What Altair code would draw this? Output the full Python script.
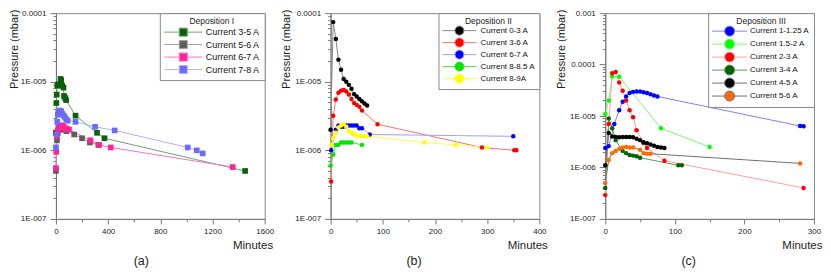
import math
import altair as alt
import pandas as pd

FONT = "Liberation Sans"

# ---------------- Panel (a): Deposition I ----------------
a_names = ["Current 3-5 A", "Current 5-6 A", "Current 6-7 A", "Current 7-8 A"]
a_t = [
    [0, 3, 6, 10, 20, 30, 35, 40, 48, 58, 62, 70, 78, 150, 315, 372, 1450],
    [0, 8, 15, 25, 40, 60, 80, 140, 200, 260, 325],
    [0, 3, 8, 12, 20, 30, 40, 50, 60, 70, 85, 100, 265, 330, 420, 1355],
    [0, 5, 10, 15, 20, 30, 40, 50, 60, 70, 80, 90, 150, 300, 450, 1010, 1080, 1125],
]
a_p = [
    [1.8e-6, 4.9e-6, 6.5e-6, 8.8e-6, 9.2e-6, 8.8e-6, 1.1e-5, 1.05e-5, 8.8e-6, 8.2e-6, 6.2e-6, 5.8e-6, 5.4e-6, 3.2e-6, 1.8e-6, 1.5e-6, 5.0e-7],
    [5.0e-7, 1.4e-6, 1.8e-6, 2.0e-6, 2.1e-6, 2.0e-6, 1.9e-6, 1.7e-6, 1.5e-6, 1.3e-6, 1.2e-6],
    [5.5e-7, 9.5e-7, 1.6e-6, 1.9e-6, 2.1e-6, 2.2e-6, 2.3e-6, 2.3e-6, 2.2e-6, 2.1e-6, 2.05e-6, 2.0e-6, 1.4e-6, 1.2e-6, 1.1e-6, 5.7e-7],
    [1.1e-6, 1.7e-6, 2.6e-6, 3.3e-6, 3.6e-6, 3.8e-6, 3.7e-6, 3.4e-6, 3.2e-6, 3.0e-6, 2.8e-6, 2.7e-6, 2.6e-6, 2.2e-6, 1.95e-6, 1.1e-6, 1.0e-6, 9.0e-7],
]
a_marker_colors = ["#0d5e0d", "#5f5f55", "#ff2299", "#6a6aff"]
a_line_colors = ["#6aa86a", "#a0a0a0", "#ff6ec7", "#b0b0ff"]

# ---------------- Panel (b): Deposition II ----------------
b_names = ["Current 0-3 A", "Current 3-6 A", "Current 6-7 A", "Current 8-8.5 A", "Current 8-9A"]
b_t = [
    [0, 5, 10, 15, 20, 25, 30, 35, 40, 45, 50, 55, 60, 65, 70],
    [1, 5, 10, 15, 20, 25, 30, 35, 40, 45, 50, 55, 60, 90, 290, 352, 356],
    [1, 10, 15, 20, 25, 30, 35, 40, 45, 50, 55, 60, 75, 350],
    [0, 5, 10, 15, 20, 25, 30, 35, 40, 60],
    [1, 5, 10, 15, 20, 25, 30, 35, 40, 45, 50, 57, 64, 70, 180, 240, 300],
]
b_p = [
    [2.0e-6, 7.4e-5, 4.2e-5, 2.1e-5, 1.5e-5, 1.1e-5, 1.0e-5, 9.0e-6, 7.9e-6, 6.6e-6, 6.1e-6, 5.6e-6, 5.2e-6, 4.8e-6, 4.5e-6],
    [3.5e-7, 3.2e-6, 5.5e-6, 6.9e-6, 7.4e-6, 7.6e-6, 7.2e-6, 6.5e-6, 5.6e-6, 4.9e-6, 4.6e-6, 4.3e-6, 3.8e-6, 2.4e-6, 1.1e-6, 1.0e-6, 1.0e-6],
    [1.0e-6, 2.0e-6, 2.3e-6, 2.2e-6, 2.2e-6, 2.3e-6, 2.3e-6, 2.3e-6, 2.3e-6, 2.3e-6, 2.1e-6, 2.1e-6, 1.7e-6, 1.6e-6],
    [6.0e-7, 8.7e-7, 1.2e-6, 1.2e-6, 1.3e-6, 1.3e-6, 1.3e-6, 1.3e-6, 1.3e-6, 1.2e-6],
    [1.2e-6, 1.5e-6, 1.8e-6, 2.15e-6, 2.3e-6, 2.4e-6, 2.2e-6, 1.9e-6, 1.8e-6, 1.7e-6, 1.65e-6, 1.6e-6, 1.6e-6, 1.6e-6, 1.3e-6, 1.2e-6, 1.1e-6],
]
b_marker_colors = ["#000000", "#ff0000", "#0000ff", "#00e600", "#ffff00"]
b_line_colors = ["#888888", "#ff7070", "#a0a0ff", "#40e040", "#ffff40"]

# ---------------- Panel (c): Deposition III ----------------
c_names = ["Current 1-1.25 A", "Current 1.5-2 A", "Current 2-3 A", "Current 3-4 A", "Current 4-5 A", "Current 5-6 A"]
c_t = [
    [0, 5, 13, 20, 25, 30, 35, 40, 45, 50, 55, 60, 65, 70, 75, 280, 285],
    [0, 5, 10, 20, 80, 150],
    [0, 5, 10, 15, 20, 25, 30, 35, 40, 45, 55, 60, 85, 285],
    [0, 5, 10, 15, 25, 30, 35, 40, 45, 50, 105, 110],
    [0, 5, 10, 15, 20, 25, 30, 35, 40, 45, 50, 55, 60, 65, 70, 75, 80, 85],
    [0, 5, 10, 15, 20, 25, 30, 35, 40, 50, 55, 60, 65, 280],
]
c_p = [
    [2.4e-6, 2.6e-6, 7.0e-6, 1.3e-5, 1.9e-5, 2.4e-5, 2.8e-5, 2.95e-5, 3.0e-5, 3.0e-5, 2.9e-5, 2.8e-5, 2.65e-5, 2.5e-5, 2.4e-5, 6.4e-6, 6.3e-6],
    [1.1e-5, 2.0e-5, 5.9e-5, 5.8e-5, 5.8e-6, 2.5e-6],
    [2.9e-7, 7.0e-6, 6.8e-5, 7.2e-5, 4.5e-5, 3.1e-5, 2.0e-5, 1.3e-5, 9.5e-6, 5.3e-6, 3.0e-6, 2.4e-6, 1.35e-6, 4.0e-7],
    [4.0e-7, 9.0e-6, 5.8e-6, 3.4e-6, 2.1e-6, 1.9e-6, 1.75e-6, 1.7e-6, 1.65e-6, 1.55e-6, 1.1e-6, 1.1e-6],
    [1.1e-6, 4.7e-6, 4.0e-6, 3.9e-6, 3.85e-6, 3.9e-6, 3.9e-6, 3.9e-6, 3.85e-6, 3.6e-6, 3.4e-6, 3.1e-6, 2.95e-6, 2.8e-6, 2.65e-6, 2.5e-6, 2.45e-6, 2.4e-6],
    [5.0e-7, 1.4e-6, 1.9e-6, 2.1e-6, 2.3e-6, 2.45e-6, 2.5e-6, 2.45e-6, 2.45e-6, 2.2e-6, 1.9e-6, 1.85e-6, 1.85e-6, 1.2e-6],
]
c_marker_colors = ["#0000ff", "#00ff00", "#ff0000", "#006400", "#000000", "#ff6a00"]
c_line_colors = ["#8080ff", "#70ff70", "#ffa0a0", "#5a9a5a", "#707070", "#707070"]

# axis tick values
a_x_major = [0, 400, 800, 1200, 1600]
a_x_minor = [200, 600, 1000, 1400]
b_x_major = [0, 100, 200, 300, 400]
b_x_minor = [50, 150, 250, 350]
c_x_major = [0, 100, 200, 300]
c_x_minor = [50, 150, 250]
y_major_ab = [1e-7, 1e-6, 1e-5, 1e-4]
y_major_c = [1e-7, 1e-6, 1e-5, 1e-4, 1e-3]
y_minor_ab = [m * 10.0 ** e for e in (-7, -6, -5) for m in range(2, 10)]
y_minor_c = [m * 10.0 ** e for e in (-7, -6, -5, -4) for m in range(2, 10)]

Y_LABELS = ("datum.value > 0.00099 ? '0.001' : datum.value > 0.000099 ? '0.0001' : "
            "'1E-00' + round(-log(datum.value) / LN10)")

W = 209
H = 206

# legend symbols: marker with a line through it (units = sqrt(symbolSize)/2 px)
SQ_PATH = "M-4.75,0H-1M1,0H4.75M-1,-1H1V1H-1Z"


def circ_path(half_len, n=20):
    pts = [(math.cos(2 * math.pi * k / n), math.sin(2 * math.pi * k / n)) for k in range(n)]
    poly = "M" + "L".join(f"{x:.3f},{y:.3f}" for x, y in pts) + "Z"
    return f"M-{half_len},0H-1M1,0H{half_len}" + poly


def panel(names, ts, ps, mcols, lcols, shape, pt_size, leg_title, sym_path, sym_size,
          sym_off, lab_off, lab_size, row_pad, title_pad, xmax, xmajor, xminor, ymin,
          ymajor, yminor, caption, ytx):
    rows = []
    for n, tt, pp in zip(names, ts, ps):
        for a, b in zip(tt, pp):
            rows.append({"series": n, "t": a, "p": b})
    df = pd.DataFrame(rows)

    xscale = alt.Scale(domain=[0, xmax], nice=False, zero=False)
    yscale = alt.Scale(type="log", domain=[ymin, ymajor[-1]], nice=False)

    leg = alt.Legend(
        orient="top-right", offset=0, title=leg_title,
        titleFontSize=8.5, titleFontWeight="normal", titleAnchor="middle",
        titlePadding=title_pad, titleColor="#222", titleFont=FONT,
        labelFontSize=lab_size, labelFont=FONT, labelColor="#111", labelOffset=lab_off,
        symbolType=sym_path, symbolSize=sym_size, symbolOffset=sym_off,
        symbolStrokeWidth=1, symbolOpacity=1,
        rowPadding=row_pad, padding=4, strokeColor="#8a8a8a", fillColor="#ffffff",
    )

    lines = alt.Chart(df).mark_line(strokeWidth=1).encode(
        x=alt.X("t:Q", scale=xscale, axis=alt.Axis(
            orient="bottom", values=xmajor, tickSize=5, labelPadding=4, labelFlush=False,
            format="d",
            title="Minutes", titleX=W + 8, titleY=21, titleAlign="right",
            titleBaseline="top", titleFontSize=11.5)),
        y=alt.Y("p:Q", scale=yscale, axis=alt.Axis(
            orient="left", values=ymajor, tickSize=6, labelPadding=4, labelExpr=Y_LABELS,
            title="Pressure (mbar)", titleAngle=270, titleX=ytx, titleY=-4,
            titleAlign="right", titleBaseline="top", titleFontSize=11)),
        stroke=alt.Stroke("series:N", scale=alt.Scale(domain=names, range=lcols), legend=leg),
    )
    pts = alt.Chart(df).mark_point(filled=True, shape=shape, size=pt_size, opacity=1).encode(
        x=alt.X("t:Q", scale=xscale, axis=alt.Axis(
            orient="bottom", values=xminor, tickSize=3, labels=False, domain=False, title=None)),
        y=alt.Y("p:Q", scale=yscale, axis=alt.Axis(
            orient="left", values=yminor, tickSize=3, labels=False, domain=False, title=None)),
        fill=alt.Fill("series:N", scale=alt.Scale(domain=names, range=mcols), legend=leg),
    )
    return alt.layer(lines, pts).resolve_axis(x="independent", y="independent").properties(
        width=W, height=H,
        title=alt.TitleParams(caption, orient="bottom", anchor="middle", frame="bounds",
                              offset=4, fontSize=12.5, fontWeight="normal", font=FONT,
                              color="#222"),
    )


pa = panel(a_names, a_t, a_p, a_marker_colors, a_line_colors, "square", 32, "Deposition I",
           SQ_PATH, 64, 15, 18, 9, -0.5, 2, 1600, a_x_major, a_x_minor, 1e-7, y_major_ab,
           y_minor_ab, "(a)", -47)
pb = panel(b_names, b_t, b_p, b_marker_colors, b_line_colors, "circle", 20, "Deposition II",
           circ_path(3.78), 81, 12, 16, 8, -4, 0, 400, b_x_major, b_x_minor, 1e-7, y_major_ab,
           y_minor_ab, "(b)", -50)
pc = panel(c_names, c_t, c_p, c_marker_colors, c_line_colors, "circle", 20, "Deposition III",
           circ_path(3.5), 100, 12, 15, 8, -4.8, 0, 300, c_x_major, c_x_minor, 1e-7, y_major_c,
           y_minor_c, "(c)", -50)

chart = alt.hconcat(pa, pb, pc, spacing=66, bounds="flush", padding=0).resolve_scale(
    fill="independent", stroke="independent"
).resolve_legend(
    fill="independent", stroke="independent"
).configure_view(
    stroke="#8a8a8a", strokeWidth=1
).configure_axis(
    grid=False, domainColor="#777777", tickColor="#777777", labelColor="#222222",
    titleColor="#222222", labelFont=FONT, titleFont=FONT, labelFontSize=8,
    titleFontWeight="normal",
)

chart.save("out.html", embed_options={"renderer": "svg", "actions": False})
